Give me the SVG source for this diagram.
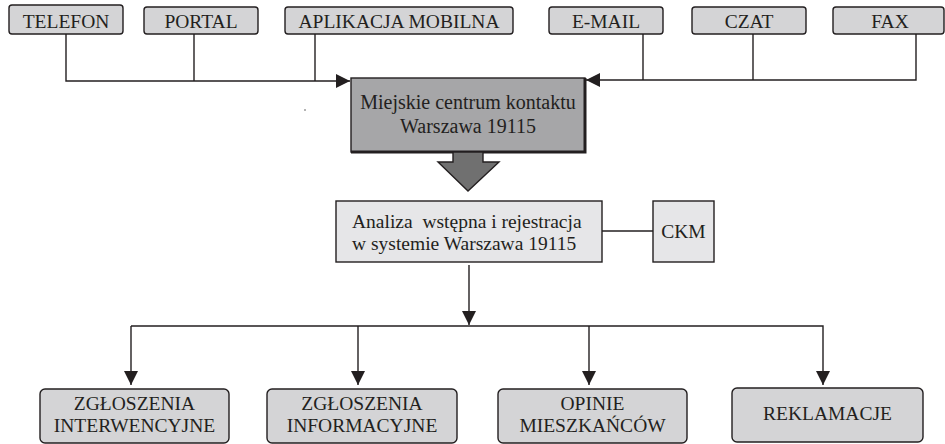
<svg xmlns="http://www.w3.org/2000/svg" width="945" height="444" viewBox="0 0 945 444" font-family="'Liberation Serif', 'Times New Roman', 'DejaVu Serif', serif">
<style>
text{font-family:'Liberation Serif','Times New Roman','DejaVu Serif',serif;font-size:19.5px;fill:#231f20;text-anchor:middle}
.big{font-size:20px}
.src{fill:#d4d4d6;stroke:#231f20;stroke-width:1.4}
.out{fill:#d4d4d6;stroke:#231f20;stroke-width:1.4}
.lt{fill:#e6e6e8;stroke:#231f20;stroke-width:1.4}
.ln{fill:none;stroke:#231f20;stroke-width:1.4}
</style>
<defs>
<marker id="ah" viewBox="0 0 14 14" refX="14" refY="7" markerWidth="14" markerHeight="14" markerUnits="userSpaceOnUse" orient="auto">
<path d="M0,0 L14,7 L0,14 Z" fill="#231f20"/>
</marker>
</defs>
<rect width="945" height="444" fill="#ffffff"/>
<g id="telefon"><rect class="src" x="9" y="5" width="114" height="29" rx="3"/><text x="66" y="28">TELEFON</text></g>
<g id="portal"><rect class="src" x="144" y="7" width="114" height="27" rx="3"/><text x="201" y="28">PORTAL</text></g>
<g id="aplikacja"><rect class="src" x="285" y="7" width="228" height="27" rx="3"/><text x="399" y="28">APLIKACJA MOBILNA</text></g>
<g id="email"><rect class="src" x="549" y="7" width="114" height="27" rx="3"/><text x="606" y="28">E-MAIL</text></g>
<g id="czat"><rect class="src" x="692" y="7" width="114" height="27" rx="3"/><text x="749" y="28">CZAT</text></g>
<g id="fax"><rect class="src" x="833" y="7" width="111" height="27" rx="3"/><text x="890" y="28">FAX</text></g>
<g id="centrum">
<rect x="351" y="78" width="234" height="74" fill="#a6a6a8" stroke="#231f20" stroke-width="1.4"/>
<path d="M585,78 V152 H351" fill="none" stroke="#231f20" stroke-width="3"/>
<text class="big" x="468" y="109">Miejskie centrum kontaktu</text>
<text class="big" x="468" y="133">Warszawa 19115</text>
</g>
<g id="blokstrzalka">
<path d="M453,152 V162 H438 L468,191 L499,162 H483 V152 Z" fill="#707070" stroke="#231f20" stroke-width="1.4"/>
</g>
<g id="analiza">
<rect class="lt" x="336" y="201" width="266" height="61"/>
<text x="352" y="228" style="text-anchor:start" xml:space="preserve">Analiza  wstępna i rejestracja</text>
<text x="352" y="250" style="text-anchor:start">w systemie Warszawa 19115</text>
</g>
<g id="ckm"><rect class="lt" x="653" y="201" width="61" height="61"/><text x="683.5" y="238">CKM</text></g>
<g id="interwencyjne"><rect class="out" x="40" y="389" width="189" height="54" rx="5"/><text x="134.5" y="410">ZGŁOSZENIA</text><text x="134.5" y="432">INTERWENCYJNE</text></g>
<g id="informacyjne"><rect class="out" x="267" y="389" width="190" height="54" rx="5"/><text x="362" y="410">ZGŁOSZENIA</text><text x="362" y="432">INFORMACYJNE</text></g>
<g id="opinie"><rect class="out" x="498" y="389" width="189" height="54" rx="5"/><text x="592.5" y="410">OPINIE</text><text x="592.5" y="432">MIESZKAŃCÓW</text></g>
<g id="reklamacje"><rect class="out" x="732" y="388" width="191" height="54" rx="5"/><text x="827.5" y="420">REKLAMACJE</text></g>
<g id="connectors">
<path class="ln" d="M66,34 V81 H350" marker-end="url(#ah)"/>
<path class="ln" d="M194,34 V81"/>
<path class="ln" d="M315,34 V81"/>
<path class="ln" d="M916,34 V80 H586" marker-end="url(#ah)"/>
<path class="ln" d="M643,34 V80"/>
<path class="ln" d="M753,34 V80"/>
<path class="ln" d="M602,231 H653"/>
<path class="ln" d="M469,265 V325" marker-end="url(#ah)"/>
<path class="ln" d="M131,326 H823 V385" marker-end="url(#ah)"/>
<path class="ln" d="M131,326 V385" marker-end="url(#ah)"/>
<path class="ln" d="M358,326 V385" marker-end="url(#ah)"/>
<path class="ln" d="M589,326 V385" marker-end="url(#ah)"/>
</g>
<circle cx="305" cy="110" r="0.8" fill="#555"/>
</svg>
